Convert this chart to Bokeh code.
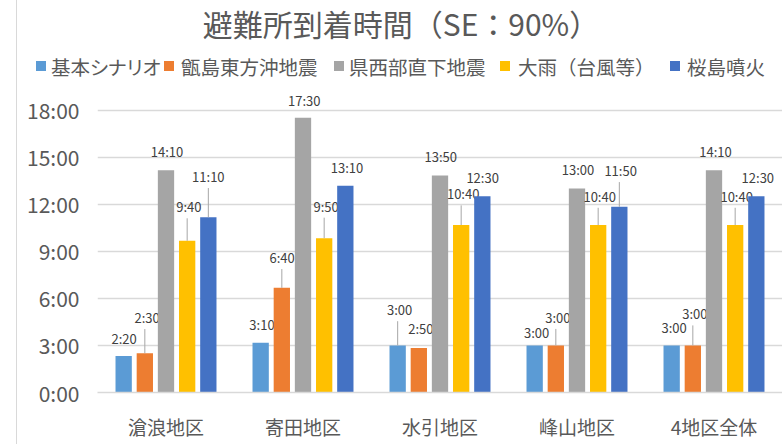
from bokeh.plotting import figure
from bokeh.layouts import column
from bokeh.models import (ColumnDataSource, FactorRange, FixedTicker, Range1d, Div)
from bokeh.transform import dodge
from bokeh.core.properties import value
from bokeh.embed import file_html
from bokeh.resources import INLINE

# ---------------- data ----------------
districts = ["滄浪地区", "寄田地区", "水引地区", "峰山地区", "4地区全体"]
series_names = ["基本シナリオ", "甑島東方沖地震", "県西部直下地震", "大雨（台風等）", "桜島噴火"]
base_time = ["2:20", "3:10", "3:00", "3:00", "3:00"]
koshiki_time = ["2:30", "6:40", "2:50", "3:00", "3:00"]
kensei_time = ["14:10", "17:30", "13:50", "13:00", "14:10"]
ooame_time = ["9:40", "9:50", "10:40", "10:40", "10:40"]
sakura_time = ["11:10", "13:10", "12:30", "11:50", "12:30"]
y_ticks = [0, 3, 6, 9, 12, 15, 18]
y_tick_labels = ["0:00", "3:00", "6:00", "9:00", "12:00", "15:00", "18:00"]
title_text = "避難所到着時間（SE：90%）"

# ---------------- styles ----------------
FONT = "Noto Sans CJK JP"
colors = ["#5B9BD5", "#ED7D31", "#A5A5A5", "#FFC000", "#4472C4"]
bar_offsets = [-0.309, -0.1545, 0.0, 0.1545, 0.309]
bar_width = 0.119
# label placement (pixels) relative to bar top centre, and leader-line flags
lbl_dx = [[0.5, 1.3, 2, 2, 2.5],
          [2.3, 0.3, 2, 2, 2],
          [1, 1.3, 0.7, 1, 1.5],
          [1.7, 2, 2, 1.5, 1.5],
          [0, 1.7, 0.3, 1.3, 1.5]]
lbl_dy = [[-17, -18, -35.7, -13.3, -18],
          [-35.7, -30.3, -19.8, -28, -31.5],
          [-18.6, -17.7, -18.8, -19, -18.6],
          [-34, -32, -31.2, -28.8, -28.8],
          [-40.7, -18.3, -18.5, -36.2, -18.5]]
leader = [[0, 0, 1, 0, 0],
          [1, 1, 0, 1, 1],
          [0, 0, 0, 0, 0],
          [1, 1, 1, 1, 1],
          [1, 0, 0, 1, 0]]
# header layout (pixels inside the header block)
legend_square_x = [36, 164, 334, 500, 670]
legend_text_x = [51, 181, 349, 518, 687]
legend_palt = [True, False, False, False, False]

W = 782
HEADER_H = 80
LEFT = 97
FRAME_H = 312
BOTTOM = 56
PX_PER_H = 282.5 / 18.0
Y_END = FRAME_H / PX_PER_H


def to_hours(s):
    h, m = s.split(":")
    return int(h) + int(m) / 60.0


series = [base_time, koshiki_time, kensei_time, ooame_time, sakura_time]

# ---------------- header: title + legend ----------------
parts = [f'<div style="position:relative;width:{W}px;height:{HEADER_H}px;'
         f'font-family:\'{FONT}\';color:#595959;">',
         f'<div style="position:absolute;left:401px;top:8px;transform:translateX(-50%);'
         f'white-space:nowrap;font-size:30px;line-height:30px;">{title_text}</div>']
for i, name in enumerate(series_names):
    feat = "font-feature-settings:'palt';" if legend_palt[i] else ""
    parts.append(f'<div style="position:absolute;left:{legend_square_x[i]}px;top:61px;'
                 f'width:10px;height:10px;background:{colors[i]};"></div>')
    parts.append(f'<div style="position:absolute;left:{legend_text_x[i]}px;top:57px;'
                 f'white-space:nowrap;font-size:19.5px;line-height:20px;{feat}">{name}</div>')
parts.append('</div>')
header = Div(text="".join(parts), width=W, height=HEADER_H, margin=0)

# ---------------- main chart ----------------
p = figure(x_range=FactorRange(*districts, range_padding=0),
           y_range=Range1d(0, Y_END),
           width=W, height=FRAME_H + BOTTOM,
           min_border_left=LEFT, min_border_right=0,
           min_border_top=0, min_border_bottom=BOTTOM,
           output_backend="svg", toolbar_location=None)
p.border_fill_color = None

for i, times in enumerate(series):
    tops = [to_hours(t) for t in times]
    lead_top = [t + (-dy - 11.5) / PX_PER_H if ld else t
                for t, dy, ld in zip(tops, lbl_dy[i], leader[i])]
    src = ColumnDataSource(dict(d=districts, top=tops, lbl=times,
                                dx=lbl_dx[i], dy=lbl_dy[i], lt=lead_top))
    xs = dodge("d", bar_offsets[i], range=p.x_range)
    p.vbar(x=xs, top="top", width=bar_width, source=src,
           fill_color=colors[i], line_color=None)
    p.segment(x0=xs, y0="top", x1=xs, y1="lt", source=src,
              line_color="#A6A6A6", line_width=1)
    p.text(x=xs, y="top", text="lbl", x_offset="dx", y_offset="dy", source=src,
           text_align="center", text_baseline="middle",
           text_font=value(FONT), text_font_size="13px", text_color="#404040")

p.yaxis.ticker = FixedTicker(ticks=y_ticks)
p.yaxis.major_label_overrides = dict(zip(y_ticks, y_tick_labels))
p.yaxis.axis_line_color = None
p.yaxis.major_tick_line_color = None
p.yaxis.minor_tick_line_color = None
p.yaxis.major_tick_out = 0
p.yaxis.major_tick_in = 0
p.yaxis.major_label_standoff = 18
p.yaxis.major_label_text_font = FONT
p.yaxis.major_label_text_font_size = "21px"
p.yaxis.major_label_text_color = "#595959"

p.xaxis.axis_line_color = "#D9D9D9"
p.xaxis.axis_line_width = 1.5
p.xaxis.major_tick_line_color = None
p.xaxis.minor_tick_line_color = None
p.xaxis.major_tick_out = 0
p.xaxis.major_tick_in = 0
p.xaxis.major_label_standoff = 20
p.xaxis.major_label_text_font = FONT
p.xaxis.major_label_text_font_size = "19px"
p.xaxis.major_label_text_color = "#595959"

p.xgrid.visible = False
p.ygrid.grid_line_color = "#D9D9D9"
p.ygrid.grid_line_width = 1.5
p.outline_line_color = None

root = column(header, p, spacing=0)
root.styles = {"background-image":
               "linear-gradient(to right, transparent 16px, #D9D9D9 16px, "
               "#D9D9D9 17px, transparent 17px)"}

open("out.html", "w").write(file_html(root, INLINE))
